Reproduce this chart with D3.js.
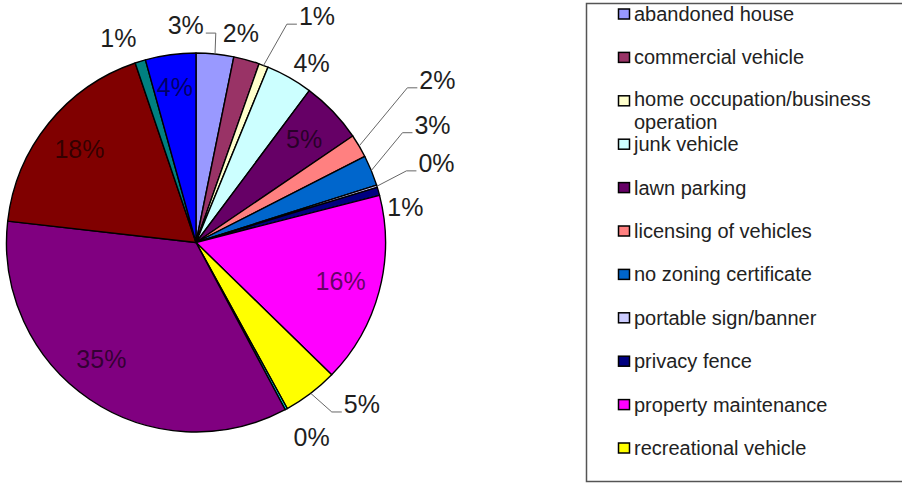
<!DOCTYPE html>
<html>
<head>
<meta charset="utf-8">
<script src="https://cdn.jsdelivr.net/npm/d3@7"></script>
<style>
  body { margin: 0; background: #fff; }
  svg { display: block; font-family: "Liberation Sans", Arial, sans-serif; }
</style>
</head>
<body>
<svg id="chart" width="902" height="483"></svg>
<script>
// Violation types, in legend order (clockwise from 12 o'clock)
const categories = [
  "abandoned house",
  "commercial vehicle",
  "home occupation/business operation",
  "junk vehicle",
  "lawn parking",
  "licensing of vehicles",
  "no zoning certificate",
  "portable sign/banner",
  "privacy fence",
  "property maintenance",
  "recreational vehicle",
  "sign violation",
  "tall grass/weeds",
  "trash/debris",
  "unsafe structure",
  "vehicle repair"
];

// Share of all cases, percent
const shares = [3.2, 2.2, 0.8, 4.0, 5.3, 2.0, 2.6, 0.2, 0.7, 16.3, 4.7, 0.2, 34.6, 18.0, 0.9, 4.3];

const colors = [
  "#9999FF", "#993366", "#FFFFCC", "#CCFFFF", "#660066", "#FF8080",
  "#0066CC", "#CCCCFF", "#000080", "#FF00FF", "#FFFF00", "#00FFFF",
  "#800080", "#800000", "#008080", "#0000FF"
];

// Where each percentage label sits: inside the slice, or at a polar
// position [degrees clockwise from top, multiple of the radius],
// optionally joined to the rim by a leader line (side = text direction).
const labelPlacement = [
  { at: [5.4, 1.11], leader: -1 },
  { at: [12.1, 1.13] },
  { at: [22.6, 1.248], leader: 1 },
  { at: [32.8, 1.127] },
  { inside: true },
  { at: [53.8, 1.382], leader: 1 },
  { at: [62.0, 1.234], leader: 1 },
  { at: [71.2, 1.173], leader: 1 },
  { at: [80.5, 1.12] },
  { inside: true },
  { at: [141.3, 1.146], leader: 1 },
  { at: [149.3, 1.195] },
  { inside: true, turn: 5 },
  { inside: true },
  { at: [-20.8, 1.153] },
  { inside: true, ring: 0.83 }
];

const svg = d3.select("#chart");
const cx = 196, cy = 242.5, r = 189.5;
const total = d3.sum(shares);
const pct = d3.format(".0%");
const labelSize = 25;

const pie = d3.pie().value(d => d).sort(null);
const arcs = pie(shares);
const arc = d3.arc().innerRadius(0).outerRadius(r);

const g = svg.append("g").attr("transform", `translate(${cx},${cy})`);

g.selectAll("path.slice")
  .data(arcs)
  .join("path")
  .attr("class", "slice")
  .attr("d", arc)
  .attr("fill", (d, i) => colors[i])
  .attr("stroke", "#000")
  .attr("stroke-width", 1.4)
  .attr("stroke-linejoin", "round");

const polar = (deg, dist) => {
  const a = deg * Math.PI / 180;
  return [Math.sin(a) * dist, -Math.cos(a) * dist];
};
const midDeg = d => ((d.startAngle + d.endAngle) / 2) * 180 / Math.PI;

arcs.forEach((d, i) => {
  const p = labelPlacement[i];
  const text = pct(d.value / total);
  if (p.inside) {
    const [x, y] = polar(midDeg(d) + (p.turn || 0), r * (p.ring || 0.79));
    g.append("text")
      .attr("x", x).attr("y", y + labelSize * 0.36)
      .attr("text-anchor", "middle")
      .attr("font-size", labelSize)
      .attr("fill", "#000")
      .attr("fill-opacity", 0.62)
      .text(text);
  } else if (p.leader) {
    const rim = polar(midDeg(d), r);
    const elbow = polar(p.at[0], r * p.at[1]);
    const end = [elbow[0] + p.leader * 10, elbow[1]];
    g.append("path")
      .attr("d", d3.line()([rim, elbow, end]))
      .attr("fill", "none")
      .attr("stroke", "#666")
      .attr("stroke-width", 1);
    g.append("text")
      .attr("x", end[0] + p.leader * 2).attr("y", end[1] + 1)
      .attr("text-anchor", p.leader > 0 ? "start" : "end")
      .attr("font-size", labelSize)
      .attr("fill", "#1e1e1e")
      .text(text);
  } else {
    const [x, y] = polar(p.at[0], r * p.at[1]);
    g.append("text")
      .attr("x", x).attr("y", y + labelSize * 0.36)
      .attr("text-anchor", "middle")
      .attr("font-size", labelSize)
      .attr("fill", "#1e1e1e")
      .text(text);
  }
});

// Legend box (runs past the right and bottom edges; rows that do not fit are left out)
const box = { x: 586.5, y: 3.5, w: 400, h: 478 };
svg.append("rect")
  .attr("x", box.x).attr("y", box.y)
  .attr("width", box.w).attr("height", box.h)
  .attr("fill", "#fff")
  .attr("stroke", "#555")
  .attr("stroke-width", 1.5);

const legendFont = 20, rowStep = 43.4, firstRow = 14, wrapWidth = 258, lineStep = 22.5;
const legend = svg.append("g");

const legendRows = legend.selectAll("g.row")
  .data(categories.map((name, i) => ({ name, i, yc: firstRow + rowStep * i }))
    .filter(d => d.yc + 12 <= box.y + box.h))
  .join("g")
  .attr("class", "row");

legendRows.append("rect")
  .attr("x", 618.5).attr("y", d => d.yc - 5)
  .attr("width", 11).attr("height", 10)
  .attr("fill", d => colors[d.i])
  .attr("stroke", "#000")
  .attr("stroke-width", 1.5);

legendRows.each(function (d) {
  const t = d3.select(this).append("text")
    .attr("font-size", legendFont)
    .attr("fill", "#222");
  // word wrap to the legend width
  const lines = [];
  let line = [];
  const probe = t.append("tspan");
  d.name.split(" ").forEach(w => {
    probe.text([...line, w].join(" "));
    if (probe.node().getComputedTextLength() > wrapWidth && line.length) {
      lines.push(line.join(" "));
      line = [w];
    } else {
      line.push(w);
    }
  });
  lines.push(line.join(" "));
  probe.remove();
  // a wrapped entry starts a little higher so it stays clear of the next row
  const base = d.yc + (lines.length > 1 ? 5.5 : 7);
  lines.forEach((s, k) => {
    t.append("tspan").attr("x", 634).attr("y", base + lineStep * k).text(s);
  });
});
</script>
</body>
</html>
